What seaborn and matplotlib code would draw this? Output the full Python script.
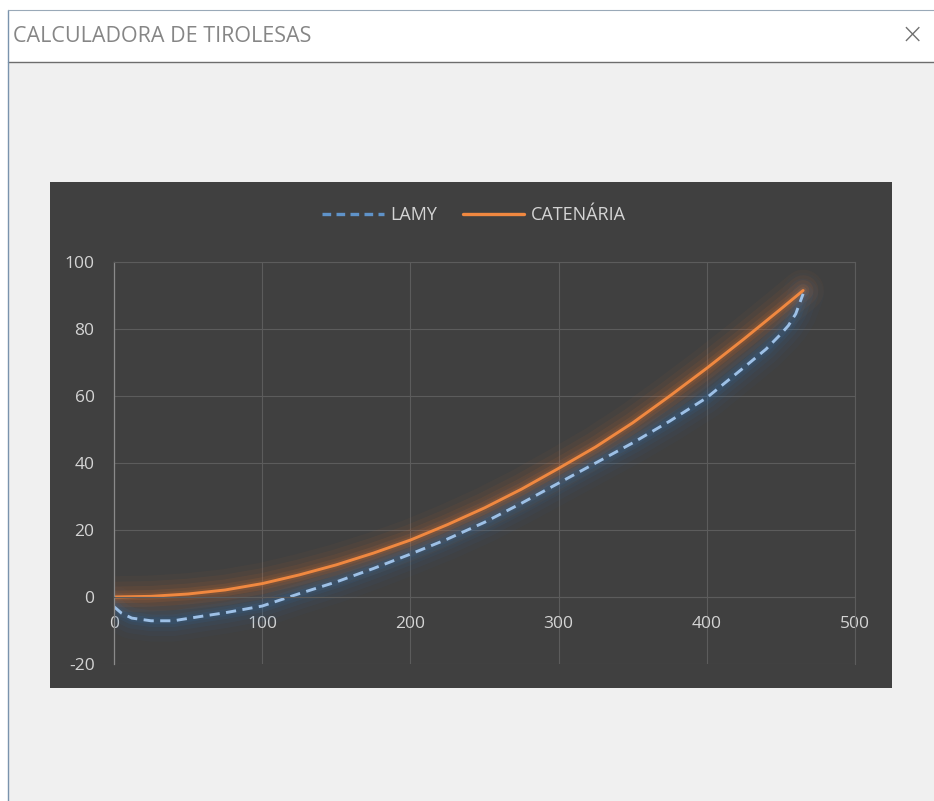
import numpy as np
import pandas as pd
import matplotlib
matplotlib.use("Agg")
import matplotlib.pyplot as plt
from matplotlib.patches import Rectangle
from matplotlib.lines import Line2D
import seaborn as sns

# ---- data ----
lamy_x = [0, 5, 12, 25, 40, 60, 75, 100, 125, 150, 175, 200, 225, 250, 275,
          300, 325, 350, 375, 400, 425, 440, 450, 455, 460, 465]
lamy_y = [-2.9, -4.8, -6.3, -7.1, -7.1, -5.7, -4.7, -2.7, 1.0, 4.5, 8.5, 12.8,
          17.3, 22.3, 28.0, 34.0, 40.0, 46.0, 52.5, 59.5, 68.5, 74.0, 78.5,
          81.0, 84.5, 90.5]
cat_x = [0, 25, 50, 75, 100, 125, 150, 175, 200, 225, 250, 275, 300, 325, 350,
         375, 400, 425, 450, 465]
cat_y = [0.0, 0.2, 0.9, 2.1, 4.0, 6.6, 9.6, 13.1, 17.0, 21.6, 26.6, 32.2, 38.4,
         44.8, 52.0, 60.0, 68.3, 77.0, 86.0, 91.5]
series_names = ["LAMY", "CATENÁRIA"]
x_ticks = [0, 100, 200, 300, 400, 500]
y_ticks = [-20, 0, 20, 40, 60, 80, 100]
window_title = "CALCULADORA DE TIROLESAS"

lamy = pd.DataFrame({"x": lamy_x, "y": lamy_y})
cat = pd.DataFrame({"x": cat_x, "y": cat_y})

sns.set_theme(style="dark")
plt.rcParams["font.family"] = ["Open Sans", "DejaVu Sans"]
plt.rcParams["axes.unicode_minus"] = False

W, H = 934, 801
fig = plt.figure(figsize=(W / 100, H / 100), dpi=100)
fig.patch.set_facecolor("white")

def px_rect(x0, y0, x1, y1, **kw):
    r = Rectangle((x0 / W, 1 - y1 / H), (x1 - x0) / W, (y1 - y0) / H,
                  transform=fig.transFigure, **kw)
    fig.add_artist(r)
    return r

# window body and title bar
px_rect(8, 10, 940, 810, facecolor="#f0f0f0", edgecolor="none", zorder=0)
px_rect(8, 10, 940, 62, facecolor="white", edgecolor="none", zorder=0.1)
fig.add_artist(Line2D([8 / W, 1], [1 - 62 / H] * 2, transform=fig.transFigure,
                      color="#6d6d6d", lw=1.0, zorder=0.2))
fig.add_artist(Line2D([8 / W, 8 / W], [0, 1 - 10 / H], transform=fig.transFigure,
                      color="#7a93ad", lw=1.0, zorder=0.2))
fig.add_artist(Line2D([8 / W, 1], [1 - 10 / H] * 2, transform=fig.transFigure,
                      color="#9aa9b8", lw=0.8, zorder=0.2))
fig.text(13 / W, 1 - 36 / H, window_title, ha="left", va="center",
         fontsize=15.5, color="#868686", zorder=1)
fig.text(912 / W, 1 - 35 / H, "\u00d7", ha="center", va="center",
         fontsize=20, color="#707070", fontweight="light", zorder=1,
         family=["DejaVu Sans"])

# dark chart area
px_rect(50, 182, 892, 688, facecolor="#404040", edgecolor="none", zorder=0.5)

# plot axes
ax = fig.add_axes([114 / W, 1 - 664 / H, (855 - 114) / W, (664 - 262) / H])
ax.set_facecolor("none")
ax.set_zorder(2)

glow_orange = "#E8752A"
glow_blue = "#2E6FB0"
for lw, a in [(30, 0.04), (22, 0.06), (15, 0.08), (9, 0.11), (5, 0.14)]:
    sns.lineplot(data=lamy, x="x", y="y", ax=ax, color=glow_blue, lw=lw,
                 alpha=a, sort=False, legend=False, solid_capstyle="round")
    sns.lineplot(data=cat, x="x", y="y", ax=ax, color=glow_orange, lw=lw,
                 alpha=a, sort=False, legend=False, solid_capstyle="round")

sns.lineplot(data=lamy, x="x", y="y", ax=ax, color="#9dc0e6", lw=2.1,
             sort=False, legend=False, dashes=False, linestyle=(0, (3.5, 2.2)))
sns.lineplot(data=cat, x="x", y="y", ax=ax, color="#F08840", lw=2.1,
             sort=False, legend=False)

ax.set_xlim(0, 500)
ax.set_ylim(-20, 100)
ax.set_xticks(x_ticks)
ax.set_yticks(y_ticks)
ax.set_xlabel("")
ax.set_ylabel("")
ax.grid(True, color="#5c5c5c", lw=0.8)
ax.tick_params(axis="both", length=0, labelsize=12.5, labelcolor="#d4d4d4")
ax.tick_params(axis="y", pad=14)
ax.tick_params(axis="x", pad=14)
ax.spines["bottom"].set_position(("data", 0))
for s in ["bottom", "top", "right"]:
    ax.spines[s].set_color("#5c5c5c")
    ax.spines[s].set_linewidth(0.8)
ax.spines["left"].set_color("#8a8a8a")
ax.spines["left"].set_linewidth(0.9)

handles = [Line2D([], [], color="#5f93c9", lw=2.4, linestyle=(0, (2.6, 1.6))),
           Line2D([], [], color="#F08840", lw=2.4)]
fig.legend(handles, series_names, loc="center", bbox_to_anchor=(474 / W, 1 - 215 / H),
           ncol=2, frameon=False, fontsize=13, labelcolor="#d4d4d4",
           handlelength=3.4, handletextpad=0.35, columnspacing=1.45)

fig.savefig("out.png", dpi=100)
